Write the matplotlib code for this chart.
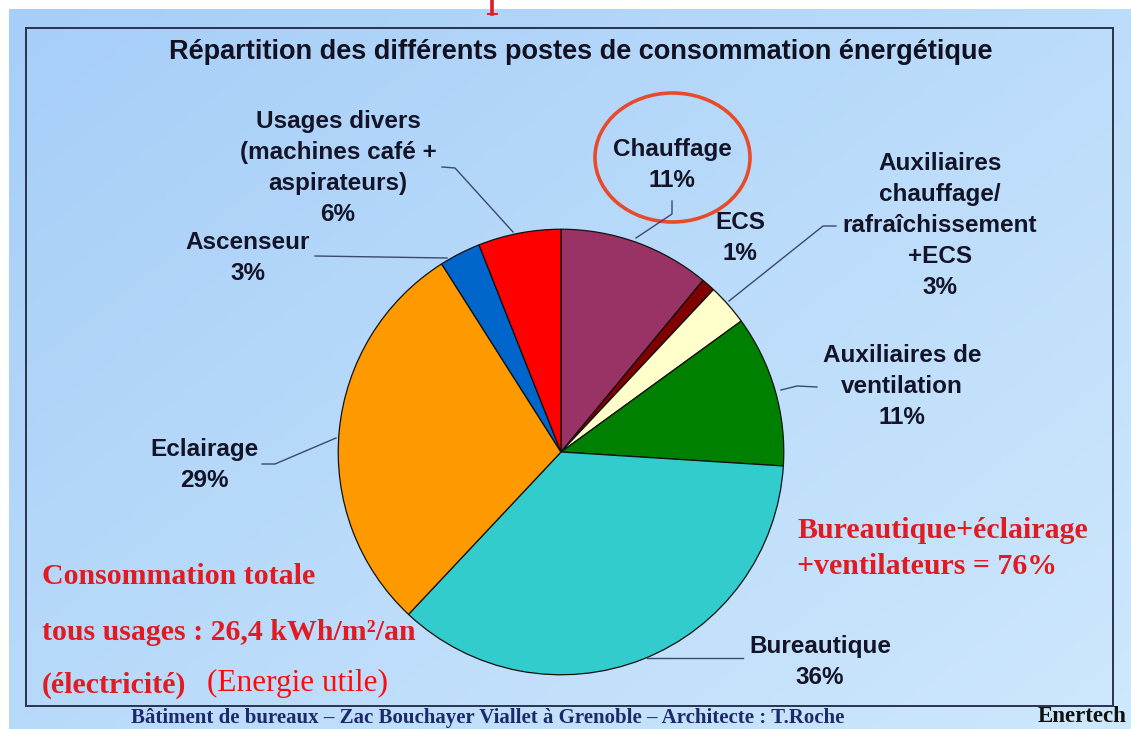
import matplotlib
matplotlib.use("Agg")
import matplotlib.pyplot as plt
import numpy as np
from matplotlib.patches import Rectangle, Ellipse

# postes de consommation (ordre horaire depuis midi)
postes = ["Chauffage", "ECS", "Auxiliaires\nchauffage/\nrafraîchissement\n+ECS",
          "Auxiliaires de\nventilation", "Bureautique", "Eclairage", "Ascenseur",
          "Usages divers\n(machines café +\naspirateurs)"]
parts = [11, 1, 3, 11, 36, 29, 3, 6]
couleurs = ["#993366", "#800000", "#FFFFCC", "#008000",
            "#33CCCC", "#FF9900", "#0066CC", "#FF0000"]

titre = "Répartition des différents postes de consommation énergétique"
total_txt = ["Consommation totale", "tous usages : 26,4 kWh/m²/an", "(électricité)"]
total_note = "(Energie utile)"
bilan_txt = ["Bureautique+éclairage", "+ventilateurs = 76%"]
pied = "Bâtiment de bureaux – Zac Bouchayer Viallet à Grenoble – Architecte : T.Roche"
societe = "Enertech"

W, H = 1131, 729
fig = plt.figure(figsize=(W / 100, H / 100), dpi=100)
fig.patch.set_facecolor("white")

# fond dégradé bleu
bg = fig.add_axes([0, 0, 1, 1])
bg.set_xlim(0, W)
bg.set_ylim(H, 0)
bg.axis("off")
gx, gy = np.meshgrid(np.linspace(0, 1, 200), np.linspace(0, 1, 200))
t = np.clip(0.55 * gx + 0.45 * gy, 0, 1)
c0 = np.array([166, 206, 248]) / 255
c1 = np.array([206, 232, 252]) / 255
grad = c0[None, None, :] * (1 - t[..., None]) + c1[None, None, :] * t[..., None]
bg.imshow(grad, extent=(9, W, H, 9), aspect="auto", zorder=0)
bg.add_patch(Rectangle((26, 28), 1113 - 26, 706 - 28, fill=False,
                       edgecolor="#2A3350", linewidth=1.4, zorder=2))
# bout de lettre rouge coupé en haut de la diapo
bg.plot([492, 492], [0, 14], color="#E01B22", linewidth=2.6, zorder=3)
bg.plot([487.5, 497], [14, 14], color="#E01B22", linewidth=1.4, zorder=3)

# camembert
cx, cy, r = 561, 452, 225
pax = fig.add_axes([(cx - r) / W, (H - cy - r) / H, 2 * r / W, 2 * r / H])
pax.pie(parts, colors=couleurs, startangle=90, counterclock=False, radius=1,
        wedgeprops=dict(edgecolor="#111111", linewidth=0.9))
pax.set_xlim(-1.01, 1.01)
pax.set_ylim(-1.01, 1.01)
pax.axis("off")

# couche des textes
ov = fig.add_axes([0, 0, 1, 1])
ov.set_xlim(0, W)
ov.set_ylim(H, 0)
ov.axis("off")
ov.patch.set_alpha(0)

def lignes(x, y0, txt, dy=31, **kw):
    for i, s in enumerate(txt.split("\n")):
        ov.text(x, y0 + i * dy, s, ha="center", va="center", **kw)

lab = dict(fontsize=17.5, fontweight="bold", color="#141428", family="Liberation Sans")
pos = [(672, 149), (740, 222), (940, 163), (902, 355),
       (820, 646), (204, 449), (248, 242), (338, 121)]
for nom, v, (x, y) in zip(postes, parts, pos):
    lignes(x, y, f"{nom}\n{v}%", **lab)

# traits de rappel
lc = dict(color="#3A4A6A", linewidth=1.0)
ov.plot([672, 672, 636], [201, 214, 238], **lc)
ov.plot([729, 823, 836], [301, 226, 226], **lc)
ov.plot([817, 797, 781], [387, 386, 390], **lc)
ov.plot([743, 647], [658, 658], **lc)
ov.plot([262, 275, 336], [464, 464, 438], **lc)
ov.plot([315, 447], [256, 258], **lc)
ov.plot([442, 455, 513], [167, 168, 232], **lc)

ov.add_patch(Ellipse((672.5, 157.5), 155, 129, fill=False,
                     edgecolor="#E84A2C", linewidth=2.6))

ov.text(581, 52, titre, ha="center", va="center", fontsize=19.5,
        fontweight="bold", color="#111122", family="Liberation Sans")

rouge = dict(fontsize=21.5, fontweight="bold", color="#E01B22",
             family="Liberation Serif", ha="left", va="center")
for s, y in zip(total_txt, [577, 632, 685]):
    ov.text(42, y, s, **rouge)
ov.text(207, 683, total_note, fontsize=22.5, color="#FF0A0A",
        family="Liberation Serif", ha="left", va="center")
for s, y in zip(bilan_txt, [530, 566]):
    ov.text(797, y, s, **rouge)

ov.text(488, 718, pied, ha="center", va="center", fontsize=15,
        fontweight="bold", color="#1C2A6B", family="Liberation Serif")
ov.text(1127, 717, societe, ha="right", va="center", fontsize=16.5,
        fontweight="bold", color="#111111", family="Liberation Serif")

fig.savefig("out.png", dpi=100, facecolor="white")
